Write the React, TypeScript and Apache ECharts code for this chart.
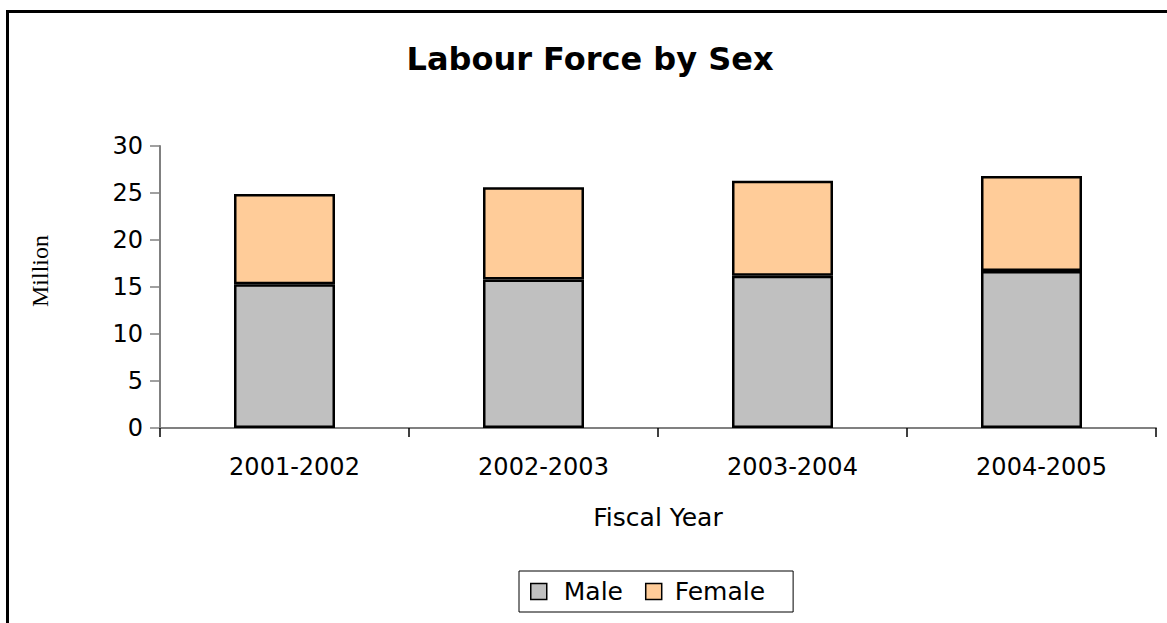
import React, { useEffect, useRef } from "react";
import * as echarts from "echarts";

const categories = ["2001-2002", "2002-2003", "2003-2004", "2004-2005"];
const maleValues = [15.3, 15.8, 16.2, 16.7];
const femaleValues = [9.6, 9.8, 10.1, 10.1];
const yTicks = [0, 5, 10, 15, 20, 25, 30];

export default function App() {
  const ref = useRef<HTMLDivElement>(null);
  useEffect(() => {
    document.body.style.margin = "0";
    const chart = echarts.init(ref.current!, null, { renderer: "svg" });
    const sans = "'DejaVu Sans', 'Liberation Sans', Arial, sans-serif";
    chart.setOption({
      animation: false,
      backgroundColor: "#ffffff",
      title: {
        text: "Labour Force by Sex",
        left: 585,
        textAlign: "center",
        top: 38,
        textStyle: { fontFamily: sans, fontSize: 32, fontWeight: "bold", color: "#000" },
      },
      graphic: [
        {
          type: "rect",
          shape: { x: 7.5, y: 11.5, width: 1300, height: 800 },
          style: { fill: "none", stroke: "#000", lineWidth: 3 },
          silent: true,
        },
        {
          type: "text",
          x: 40,
          y: 271,
          rotation: Math.PI / 2,
          style: {
            text: "Million",
            fontFamily: "'Liberation Serif', 'Times New Roman', serif",
            fontSize: 24,
            fill: "#000",
            align: "center",
            verticalAlign: "middle",
          },
          silent: true,
        },
      ],
      legend: {
        left: 519,
        top: 571,
        orient: "horizontal",
        itemWidth: 16,
        itemHeight: 16,
        itemGap: 22,
        padding: [8, 28, 8, 11],
        borderColor: "#000",
        borderWidth: 1,
        icon: "rect",
        itemStyle: { borderColor: "#000", borderWidth: 1.5 },
        textStyle: { fontFamily: sans, fontSize: 25, color: "#000" },
        data: [
          { name: "Male", textStyle: { padding: [0, 0, 0, 12] } },
          { name: "Female", textStyle: { padding: [0, 0, 0, 8] } },
        ],
      },
      grid: { left: 160, right: 11, top: 146, bottom: 195, containLabel: false },
      xAxis: {
        type: "category",
        data: categories,
        name: "Fiscal Year",
        nameLocation: "middle",
        nameGap: 77,
        nameTextStyle: { fontFamily: sans, fontSize: 25, color: "#000" },
        axisLine: { lineStyle: { color: "#808080", width: 2 } },
        axisTick: { show: true, length: 9, lineStyle: { color: "#000", width: 1.5 } },
        axisLabel: { fontFamily: sans, fontSize: 24, color: "#000", margin: 27, padding: [0, 0, 0, 20] },
      },
      yAxis: {
        type: "value",
        min: yTicks[0],
        max: yTicks[yTicks.length - 1],
        interval: 5,
        axisLine: { show: true, lineStyle: { color: "#808080", width: 2 } },
        axisTick: { show: true, length: 10, lineStyle: { color: "#808080", width: 1.5 } },
        axisLabel: { fontFamily: sans, fontSize: 24, color: "#000", margin: 17 },
        splitLine: { show: false },
      },
      series: [
        {
          name: "Male",
          type: "bar",
          stack: "total",
          barWidth: 101,
          data: maleValues,
          itemStyle: { color: "#C0C0C0", borderColor: "#000", borderWidth: 2.5 },
        },
        {
          name: "Female",
          type: "bar",
          stack: "total",
          barWidth: 101,
          data: femaleValues,
          itemStyle: { color: "#FFCC99", borderColor: "#000", borderWidth: 2.5 },
        },
      ],
    });
    return () => chart.dispose();
  }, []);
  return (
    <div
      ref={ref}
      style={{ position: "absolute", left: 0, top: 0, width: 1167, height: 623 }}
    />
  );
}
